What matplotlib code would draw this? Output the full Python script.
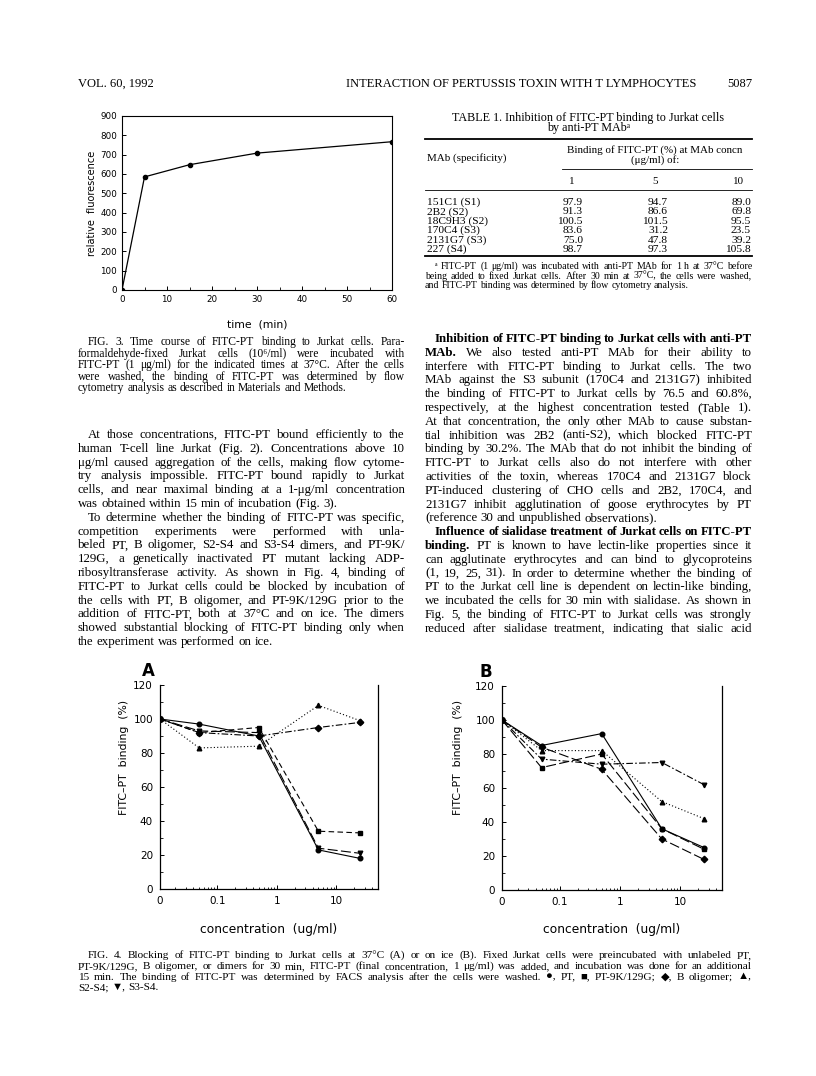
import matplotlib
matplotlib.use("Agg")
import matplotlib.pyplot as plt
import numpy as np
from matplotlib.lines import Line2D
from matplotlib.ticker import LogLocator, NullFormatter, MultipleLocator, FixedLocator

# ---------------- data ----------------
time_min = [0, 5, 15, 30, 60]
rel_fluor = [0, 585, 648, 708, 767]

conc = [0, 0.05, 0.5, 5, 25]
series_names = ["PT", "PT-9K/129G", "B oligomer", "S2-S4", "S3-S4"]
A_PT = [100, 97, 90, 23, 18]
A_PT9K = [100, 92, 95, 34, 33]
A_BOLIG = [100, 92, 90, 95, 98]
A_S2S4 = [100, 83, 84, 108, 99]
A_S3S4 = [100, 93, 92, 24, 21]
B_PT = [100, 85, 92, 36, 25]
B_PT9K = [100, 72, 80, 36, 24]
B_BOLIG = [100, 84, 71, 30, 18]
B_S2S4 = [100, 82, 82, 52, 42]
B_S3S4 = [100, 77, 74, 75, 62]

tab_mab = ["151C1 (S1)", "2B2 (S2)", "18C9H3 (S2)", "170C4 (S3)", "2131G7 (S3)", "227 (S4)"]
tab_c1 = [97.9, 91.3, 100.5, 83.6, 75.0, 98.7]
tab_c5 = [94.7, 86.6, 101.5, 31.2, 47.8, 97.3]
tab_c10 = [89.0, 69.8, 95.5, 23.5, 39.2, 105.8]
tab_cols = ["1", "5", "10"]

# ---------------- page setup ----------------
W, H = 816, 1076
fig = plt.figure(figsize=(W / 100, H / 100), dpi=100)
fig.patch.set_facecolor("white")
renderer = fig.canvas.get_renderer()
SERIF = ["Liberation Serif", "DejaVu Serif", "DejaVu Sans"]
SANS = ["DejaVu Sans"]


def fx(x):
    return x / W


def fy(y):
    return 1 - y / H


def txt(x, y, s, size=9, family=SERIF, **kw):
    kw.setdefault("va", "baseline")
    return fig.text(fx(x), fy(y), s, fontsize=size, family=family, **kw)


def hline(x0, x1, y, lw=0.6):
    fig.add_artist(Line2D([fx(x0), fx(x1)], [fy(y), fy(y)], color="black", lw=lw,
                          transform=fig.transFigure))


def jline(segs, x0, x1, y, size, justify=True, indent=0):
    if isinstance(segs, str):
        segs = [(segs, "normal")]
    words = []
    for text, wt in segs:
        for w in text.split(" "):
            if w:
                words.append((w, wt))
    avail = x1 - x0 - indent
    sz = size
    while True:
        objs, widths = [], []
        for w, wt in words:
            t = txt(0, y, w, size=sz, weight=wt)
            widths.append(t.get_window_extent(renderer).width)
            objs.append(t)
        minsp = sz * 1.389 * 0.18
        if sum(widths) + minsp * (len(words) - 1) <= avail or sz < size * 0.85:
            break
        for t in objs:
            t.remove()
        sz *= 0.985
    space = sz * 1.389 * 0.25
    if justify and len(words) > 1:
        gap = (avail - sum(widths)) / (len(words) - 1)
    else:
        gap = space
    x = x0 + indent
    for t, w in zip(objs, widths):
        t.set_position((fx(x), fy(y)))
        x += w + gap


def paragraph(lines, x0, x1, y0, dy, size, indent_first=0):
    for i, ln in enumerate(lines):
        last = (i == len(lines) - 1)
        ind = indent_first if i == 0 else 0
        jline(ln, x0, x1, y0 + i * dy, size, justify=not last, indent=ind)


# ---------------- running head ----------------
LX0, LX1 = 78, 405
RX0, RX1 = 425, 752
txt(LX0, 87, "VOL. 60, 1992", size=9)
txt(346, 87, "INTERACTION OF PERTUSSIS TOXIN WITH T LYMPHOCYTES", size=9)
txt(RX1, 87, "5087", size=9, ha="right")

# ---------------- Fig. 3 ----------------
ax3 = fig.add_axes([fx(122), fy(290), fx(392) - fx(122), (290 - 116) / H])
ax3.plot(time_min, rel_fluor, color="black", lw=0.9, marker="o", ms=3)
ax3.set_xlim(0, 60)
ax3.set_ylim(0, 900)
ax3.set_xticks(range(0, 61, 10))
ax3.xaxis.set_minor_locator(MultipleLocator(5))
ax3.set_yticks(range(0, 901, 100))
ax3.tick_params(direction="in", labelsize=6.3, length=3, width=0.7, pad=3.5)
ax3.tick_params(which="minor", direction="in", length=2)
for lab in ax3.get_xticklabels() + ax3.get_yticklabels():
    lab.set_family(SANS)
for sp in ax3.spines.values():
    sp.set_linewidth(0.8)
fig.text(fx(92), fy(203), "relative  fluorescence", rotation=90, ha="center", va="center",
         fontsize=7, family=SANS)
fig.text(fx(257), fy(325), "time  (min)", ha="center", va="center", fontsize=7.8, family=SANS)

cap3 = [
    "FIG. 3. Time course of FITC-PT binding to Jurkat cells. Para-",
    "formaldehyde-fixed Jurkat cells (10\u2076/ml) were incubated with",
    "FITC-PT (1 \u03bcg/ml) for the indicated times at 37\u00b0C. After the cells",
    "were washed, the binding of FITC-PT was determined by flow",
    "cytometry analysis as described in Materials and Methods.",
]
paragraph(cap3, LX0, LX1, 345, 11.6, 8.3, indent_first=10)

left_body = [
    "At those concentrations, FITC-PT bound efficiently to the",
    "human T-cell line Jurkat (Fig. 2). Concentrations above 10",
    "\u03bcg/ml caused aggregation of the cells, making flow cytome-",
    "try analysis impossible. FITC-PT bound rapidly to Jurkat",
    "cells, and near maximal binding at a 1-\u03bcg/ml concentration",
    "was obtained within 15 min of incubation (Fig. 3).",
    "To determine whether the binding of FITC-PT was specific,",
    "competition experiments were performed with unla-",
    "beled PT, B oligomer, S2-S4 and S3-S4 dimers, and PT-9K/",
    "129G, a genetically inactivated PT mutant lacking ADP-",
    "ribosyltransferase activity. As shown in Fig. 4, binding of",
    "FITC-PT to Jurkat cells could be blocked by incubation of",
    "the cells with PT, B oligomer, and PT-9K/129G prior to the",
    "addition of FITC-PT, both at 37\u00b0C and on ice. The dimers",
    "showed substantial blocking of FITC-PT binding only when",
    "the experiment was performed on ice.",
]
y0 = 438
BODY = 9.3
for i, ln in enumerate(left_body):
    last = i in (5, 15)
    ind = 10 if i in (0, 6) else 0
    jline(ln, LX0, LX1, y0 + i * 13.8, BODY, justify=not last, indent=ind)

# ---------------- Table 1 ----------------
txt((RX0 + RX1) / 2, 121, "TABLE 1. Inhibition of FITC-PT binding to Jurkat cells", size=8.7, ha="center")
txt((RX0 + RX1) / 2, 131.5, "by anti-PT MAb\u1d43", size=8.7, ha="center")
hline(RX0, RX1, 139, lw=1.3)
txt(655, 153, "Binding of FITC-PT (%) at MAb concn", size=7.9, ha="center")
txt(655, 162.5, "(\u03bcg/ml) of:", size=7.9, ha="center")
txt(RX0 + 2, 161, "MAb (specificity)", size=7.9)
hline(562, RX1, 169, lw=0.6)
for cx, lab in zip([572, 655, 738], tab_cols):
    txt(cx, 183.5, lab, size=7.9, ha="center")
hline(RX0, RX1, 190, lw=0.6)
for i, name in enumerate(tab_mab):
    yy = 205 + i * 9.4
    txt(RX0 + 2, yy, name, size=8.2)
    txt(583, yy, f"{tab_c1[i]:.1f}", size=8.2, ha="right")
    txt(668, yy, f"{tab_c5[i]:.1f}", size=8.2, ha="right")
    txt(751, yy, f"{tab_c10[i]:.1f}", size=8.2, ha="right")
hline(RX0, RX1, 256, lw=1.3)
foot = [
    "\u1d43 FITC-PT (1 \u03bcg/ml) was incubated with anti-PT MAb for 1 h at 37\u00b0C before",
    "being added to fixed Jurkat cells. After 30 min at 37\u00b0C, the cells were washed,",
    "and FITC-PT binding was determined by flow cytometry analysis.",
]
paragraph(foot, RX0, RX1, 269, 9.6, 7.1, indent_first=10)

# ---------------- right column body ----------------
B_ = "bold"
N_ = "normal"
right_body = [
    [("Inhibition of FITC-PT binding to Jurkat cells with anti-PT", B_)],
    [("MAb.", B_), ("We also tested anti-PT MAb for their ability to", N_)],
    "interfere with FITC-PT binding to Jurkat cells. The two",
    "MAb against the S3 subunit (170C4 and 2131G7) inhibited",
    "the binding of FITC-PT to Jurkat cells by 76.5 and 60.8%,",
    "respectively, at the highest concentration tested (Table 1).",
    "At that concentration, the only other MAb to cause substan-",
    "tial inhibition was 2B2 (anti-S2), which blocked FITC-PT",
    "binding by 30.2%. The MAb that do not inhibit the binding of",
    "FITC-PT to Jurkat cells also do not interfere with other",
    "activities of the toxin, whereas 170C4 and 2131G7 block",
    "PT-induced clustering of CHO cells and 2B2, 170C4, and",
    "2131G7 inhibit agglutination of goose erythrocytes by PT",
    "(reference 30 and unpublished observations).",
    [("Influence of sialidase treatment of Jurkat cells on FITC-PT", B_)],
    [("binding.", B_), ("PT is known to have lectin-like properties since it", N_)],
    "can agglutinate erythrocytes and can bind to glycoproteins",
    "(1, 19, 25, 31). In order to determine whether the binding of",
    "PT to the Jurkat cell line is dependent on lectin-like binding,",
    "we incubated the cells for 30 min with sialidase. As shown in",
    "Fig. 5, the binding of FITC-PT to Jurkat cells was strongly",
    "reduced after sialidase treatment, indicating that sialic acid",
]
ry0 = 342
for i, ln in enumerate(right_body):
    last = i == 13
    ind = 10 if i in (0, 14) else 0
    jline(ln, RX0, RX1, ry0 + i * 13.8, BODY, justify=not last, indent=ind)

# ---------------- Fig. 4 ----------------
X0 = 0.011   # plotting position of the "0" concentration on the log axis
XMAX = 50


def conc_pos(values):
    return [X0 if v == 0 else v for v in values]


def fig4_axes(left, right, top, bottom, panel, series, letter_x, ylab_x):
    ax = fig.add_axes([fx(left), fy(bottom), (right - left) / W, (bottom - top) / H])
    xs = conc_pos(conc)
    for ys, mk, ls in series:
        ax.plot(xs, ys, color="black", lw=0.8, linestyle=ls, marker=mk, ms=3.3,
                markerfacecolor="black", markeredgecolor="black")
    ax.set_xscale("log")
    ax.set_xlim(X0, XMAX)
    ax.set_ylim(0, 120)
    ax.xaxis.set_major_locator(FixedLocator([X0, 0.1, 1, 10]))
    ax.set_xticklabels(["0", "0.1", "1", "10"])
    ax.xaxis.set_minor_locator(LogLocator(base=10, subs=np.arange(2, 10)))
    ax.xaxis.set_minor_formatter(NullFormatter())
    ax.set_yticks(range(0, 121, 20))
    ax.yaxis.set_minor_locator(MultipleLocator(10))
    ax.tick_params(direction="in", labelsize=7.5, length=3, width=0.7, pad=5)
    ax.tick_params(which="minor", direction="in", length=1.8, width=0.6)
    ax.spines["top"].set_visible(False)
    for sp in ax.spines.values():
        sp.set_linewidth(0.9)
    for lab in ax.get_xticklabels() + ax.get_yticklabels():
        lab.set_family(SANS)
    fig.text(fx(letter_x), fy(top - 14), panel, fontsize=12, weight="bold", family=SANS,
             ha="center", va="center")
    fig.text(fx(ylab_x), fy(757), "FITC\u2013PT  binding  (%)", rotation=90,
             ha="center", va="center", fontsize=7.8, family=SANS)
    fig.text(fx((left + right) / 2), fy(929), "concentration  (ug/ml)", ha="center",
             va="center", fontsize=8.8, family=SANS)
    return ax


DASH = (0, (5, 3))
LDASH = (0, (9, 3))
DDOT = (0, (6, 2, 1.5, 2))
DOT = (0, (1, 2))
seriesA = [
    (A_PT, "o", "-"),
    (A_PT9K, "s", DASH),
    (A_BOLIG, "D", DDOT),
    (A_S2S4, "^", DOT),
    (A_S3S4, "v", LDASH),
]
seriesB = [
    (B_PT, "o", "-"),
    (B_PT9K, "s", LDASH),
    (B_BOLIG, "D", LDASH),
    (B_S2S4, "^", DOT),
    (B_S3S4, "v", DDOT),
]
fig4_axes(160, 378, 685, 889, "A", seriesA, 148, 124)
fig4_axes(502, 722, 686, 890, "B", seriesB, 486, 458)

cap4 = [
    "FIG. 4. Blocking of FITC-PT binding to Jurkat cells at 37\u00b0C (A) or on ice (B). Fixed Jurkat cells were preincubated with unlabeled PT,",
    "PT-9K/129G, B oligomer, or dimers for 30 min, FITC-PT (final concentration, 1 \u03bcg/ml) was added, and incubation was done for an additional",
    "15 min. The binding of FITC-PT was determined by FACS analysis after the cells were washed. \u25cf, PT, \u25a0, PT-9K/129G; \u25c6, B oligomer; \u25b2,",
    "S2-S4; \u25bc, S3-S4.",
]
paragraph(cap4, LX0, RX1, 958, 10.8, 8.1, indent_first=10)

fig.savefig("out.png", dpi=100, facecolor="white")
